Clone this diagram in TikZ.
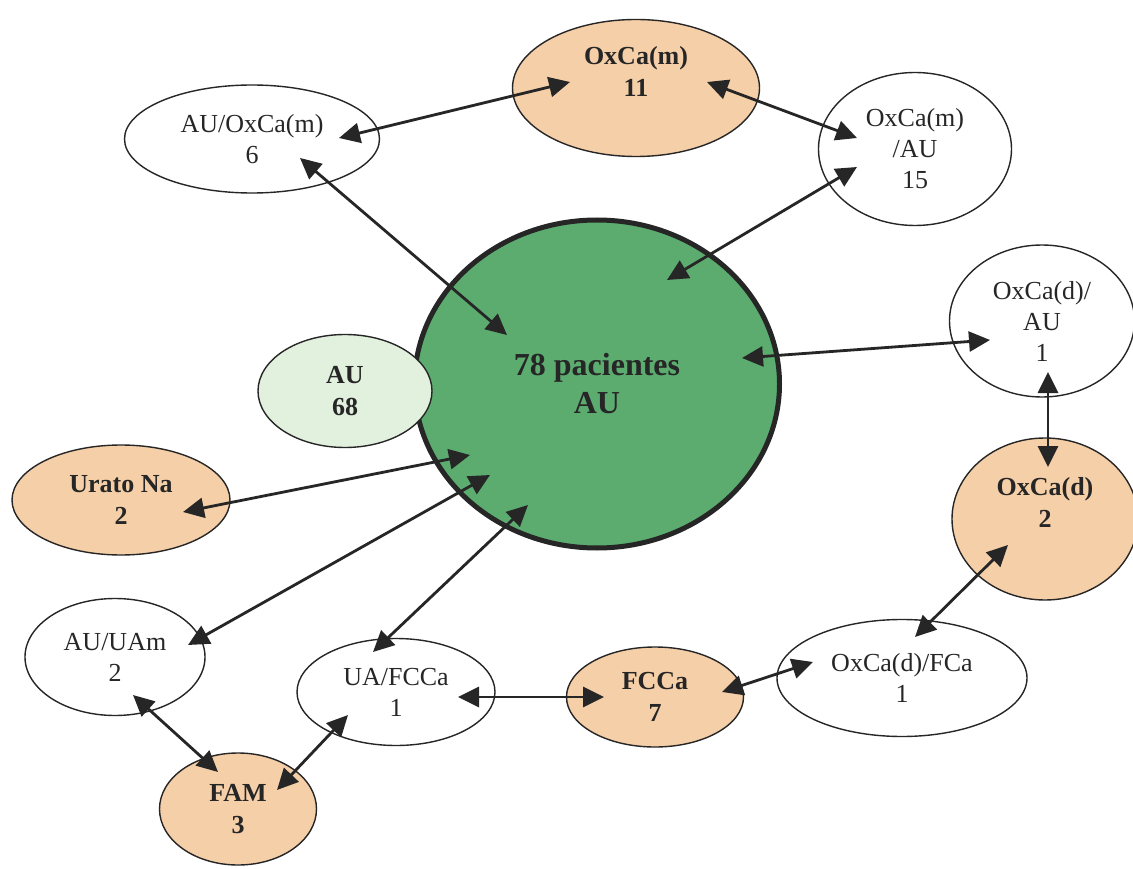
\documentclass[tikz,border=0pt]{standalone}
\usepackage{fontspec}
\setmainfont{Liberation Serif}
\usetikzlibrary{arrows.meta, shapes.geometric}

\definecolor{peach}{RGB}{245,207,168}
\definecolor{mint}{RGB}{226,240,222}
\definecolor{leaf}{RGB}{92,172,112}
\definecolor{ink}{RGB}{38,38,38}

\begin{document}
\begin{tikzpicture}[
  x=1pt, y=-1pt,
  every node/.style={font=\fontsize{26}{31}\selectfont, text=ink, align=center},
  oval/.style={draw=ink, ellipse, line width=1.4pt, inner sep=0pt, fill=white},
  stone/.style={oval, fill=peach, font=\fontsize{26}{32}\selectfont\bfseries},
  boldtext/.style={font=\fontsize{26}{32}\selectfont\bfseries},
  link/.style={>={Triangle[length=21pt, width=20pt]}, <->, line width=2.8pt, draw=ink}
]
\path[use as bounding box, fill=white] (0,0) rectangle (1133,869);

% Central group
\node[draw=ink, line width=5pt, ellipse, fill=leaf, inner sep=0pt, minimum width=365pt, minimum height=328pt,
  font=\fontsize{32}{38}\selectfont\bfseries] (pac) at (597,384) {78 pacientes\\AU};
\node[oval, fill=mint, boldtext, minimum width=174pt, minimum height=113pt] (au) at (345,391) {AU\\68};

% Top row
\node[oval, minimum width=255pt, minimum height=108pt] (auox) at (252,139) {AU/OxCa(m)\\6};
\node[stone, minimum width=247pt, minimum height=137pt,
  label={[boldtext, yshift=17pt]center:OxCa(m)\\11}] (oxm) at (636,88) {};
\node[oval, minimum width=193pt, minimum height=153pt] (oxmau) at (915,149) {OxCa(m)\\/AU\\15};

% Right column
\node[oval, minimum width=185pt, minimum height=152pt] (oxdau) at (1042,321) {OxCa(d)/\\AU\\1};
\node[stone, minimum width=186pt, minimum height=162pt,
  label={[boldtext, yshift=17pt]center:OxCa(d)\\2}] (oxd) at (1045,519) {};

% Left and bottom
\node[stone, minimum width=218pt, minimum height=110pt] (urato) at (121,500) {Urato Na\\2};
\node[oval, minimum width=180pt, minimum height=117pt] (auuam) at (115,657) {AU/UAm\\2};
\node[oval, minimum width=198pt, minimum height=107pt] (uafc) at (396,692) {UA/FCCa\\1};
\node[stone, minimum width=177pt, minimum height=100pt] (fcca) at (655,697) {FCCa\\7};
\node[oval, minimum width=250pt, minimum height=117pt] (oxdfc) at (902,678) {OxCa(d)/FCa\\1};
\node[stone, minimum width=157pt, minimum height=112pt] (fam) at (238,809) {FAM\\3};

% Arrows
\draw[link] ([shift={(87,-1)}]auox.center) -- ([shift={(-66,-6)}]oxm.center);
\draw[link] ([shift={(71,-6)}]oxm.center) -- ([shift={(-58,-11)}]oxmau.center);
\draw[link] ([shift={(48,19)}]auox.center) -- ([shift={(-90,-49)}]pac.center);
\draw[link] ([shift={(-58,18)}]oxmau.center) -- ([shift={(70,-104)}]pac.center);
\draw[link] ([shift={(145,-26)}]pac.center) -- ([shift={(-52,19)}]oxdau.center);
\draw[link] ([shift={(6,51)}]oxdau.center) -- ([shift={(3,-52)}]oxd.center);
\draw[link] ([shift={(62,12)}]urato.center) -- ([shift={(-127,71)}]pac.center);
\draw[link] ([shift={(-107,91)}]pac.center) -- ([shift={(73,-12)}]auuam.center);
\draw[link] ([shift={(-69,121)}]pac.center) -- ([shift={(-23,-40)}]uafc.center);
\draw[link] ([shift={(-37,26)}]oxd.center) -- ([shift={(13,-41)}]oxdfc.center);
\draw[link] ([shift={(67,-5)}]fcca.center) -- ([shift={(-89,-16)}]oxdfc.center);
\draw[link] ([shift={(62,5)}]uafc.center) -- ([shift={(-51,0)}]fcca.center);
\draw[link] ([shift={(18,38)}]auuam.center) -- ([shift={(-20,-37)}]fam.center);
\draw[link] ([shift={(39,-19)}]fam.center) -- ([shift={(-48,23)}]uafc.center);

\end{tikzpicture}
\end{document}
